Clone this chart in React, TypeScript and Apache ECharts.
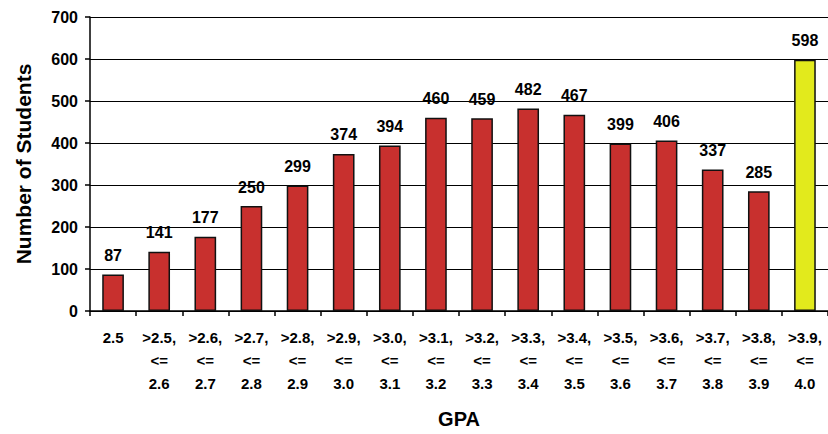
import React, { useEffect, useRef } from "react";
import * as echarts from "echarts";

const categories = [
  "2.5",
  ">2.5,\n<=\n2.6",
  ">2.6,\n<=\n2.7",
  ">2.7,\n<=\n2.8",
  ">2.8,\n<=\n2.9",
  ">2.9,\n<=\n3.0",
  ">3.0,\n<=\n3.1",
  ">3.1,\n<=\n3.2",
  ">3.2,\n<=\n3.3",
  ">3.3,\n<=\n3.4",
  ">3.4,\n<=\n3.5",
  ">3.5,\n<=\n3.6",
  ">3.6,\n<=\n3.7",
  ">3.7,\n<=\n3.8",
  ">3.8,\n<=\n3.9",
  ">3.9,\n<=\n4.0",
];
const students = [87, 141, 177, 250, 299, 374, 394, 460, 459, 482, 467, 399, 406, 337, 285, 598];
const highlightIndex = 15;

const FONT = "Liberation Sans";

export default function App() {
  const ref = useRef<HTMLDivElement>(null);
  useEffect(() => {
    if (!ref.current) return;
    const chart = echarts.init(ref.current, undefined, { renderer: "svg" });
    chart.setOption({
      animation: false,
      backgroundColor: "#ffffff",
      grid: { left: 90, top: 17, width: 742, height: 296 },
      xAxis: {
        type: "category",
        data: categories,
        name: "GPA",
        nameLocation: "middle",
        nameGap: 98,
        nameTextStyle: { fontFamily: FONT, fontWeight: "bold", fontSize: 20, color: "#000" },
        axisLine: { lineStyle: { color: "#000", width: 1.5 } },
        axisTick: { show: true, length: 5, lineStyle: { color: "#000", width: 1.5 } },
        axisLabel: {
          interval: 0,
          margin: 15,
          fontFamily: FONT,
          fontWeight: "bold",
          fontSize: 15,
          lineHeight: 23,
          color: "#000",
        },
      },
      yAxis: {
        type: "value",
        min: 0,
        max: 700,
        interval: 100,
        name: "Number of Students",
        nameLocation: "middle",
        nameGap: 56,
        nameTextStyle: { fontFamily: FONT, fontWeight: "bold", fontSize: 21, color: "#000" },
        axisLine: { show: true, lineStyle: { color: "#000", width: 1.5 } },
        axisTick: { show: true, length: 5, lineStyle: { color: "#000", width: 1.5 } },
        axisLabel: { margin: 12, fontFamily: FONT, fontWeight: "bold", fontSize: 16, color: "#000" },
        splitLine: { show: true, lineStyle: { color: "#000", width: 1.2 } },
      },
      series: [
        {
          type: "bar",
          data: students.map((v, i) => ({
            value: v,
            itemStyle: { color: i === highlightIndex ? "#e2ea1c" : "#c8302e" },
          })),
          barWidth: "47%",
          itemStyle: { borderColor: "#111", borderWidth: 1.5 },
          label: {
            show: true,
            position: "top",
            distance: 11,
            fontFamily: FONT,
            fontWeight: "bold",
            fontSize: 16,
            color: "#000",
          },
        },
      ],
    });
    return () => chart.dispose();
  }, []);
  return <div ref={ref} style={{ width: 828, height: 434, position: "absolute", left: 0, top: 0 }} />;
}
